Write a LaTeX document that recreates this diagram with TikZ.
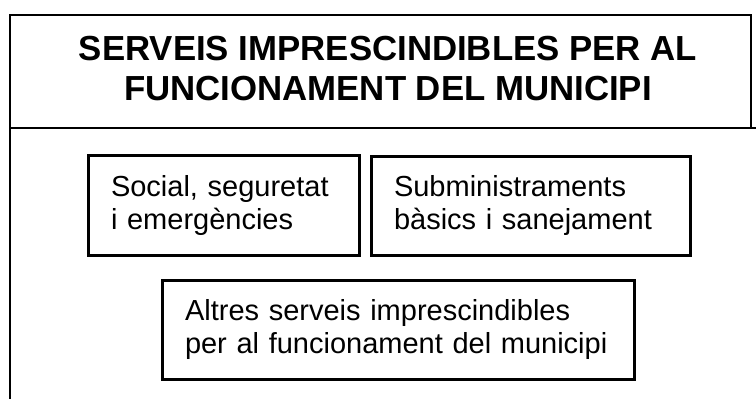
\documentclass[tikz,border=0pt]{standalone}
\usepackage{fontspec}
\setmainfont{Liberation Sans}
\begin{document}
\begin{tikzpicture}[x=1pt, y=-1pt]
  \tikzstyle{frame}=[draw=black, line width=2pt]
  \tikzstyle{title}=[font=\fontsize{34.8}{40}\selectfont\bfseries, align=center, inner sep=0pt]
  \tikzstyle{box}=[draw=black, line width=3pt, align=left, inner xsep=23pt, inner ysep=0pt,
                   font=\fontsize{29}{33}\selectfont]

  \useasboundingbox (0,0) rectangle (756,399);

  % frame and title
  \draw[frame] (10,399) -- (10,15) -- (751,15) -- (751,128);
  \draw[frame] (10,128) -- (756,128);
  \node[title] (head) at (388,68.5) {SERVEIS IMPRESCINDIBLES PER AL\\FUNCIONAMENT DEL MUNICIPI};

  % services
  \node[box, minimum width=271pt, minimum height=100pt, text width=225pt] (social) at (223.5,205)
    {Social, seguretat\\i emergències};
  \node[box, minimum width=319pt, minimum height=99pt, text width=273pt] (basics) at (530.5,205.5)
    {Subministraments\\bàsics i sanejament};
  \node[box, minimum width=472pt, minimum height=99pt, text width=426pt] (altres) at (398,329.5)
    {Altres serveis imprescindibles\\per al funcionament del municipi};
\end{tikzpicture}
\end{document}
